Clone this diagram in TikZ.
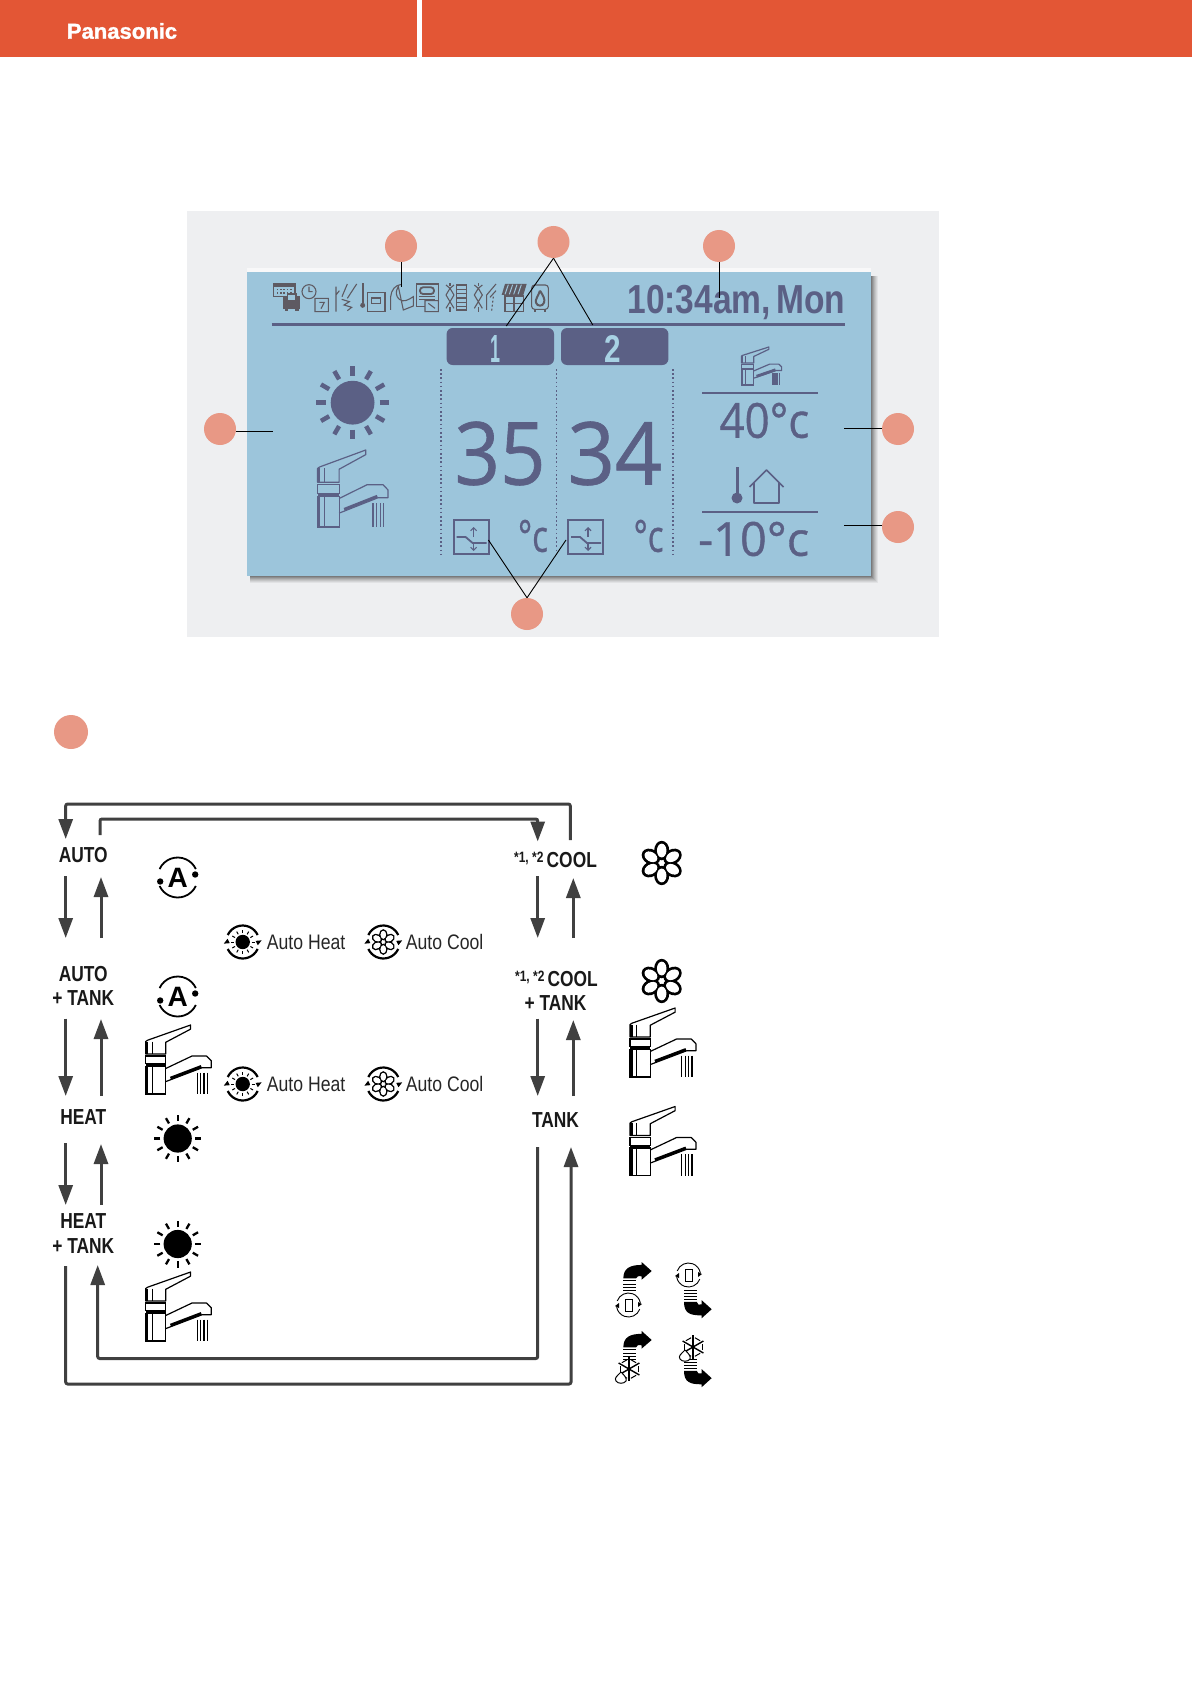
\documentclass[tikz,border=0pt]{standalone}
\usepackage{fontspec}
\usepackage{graphicx}
\setmainfont{Liberation Sans}
\newfontfamily\lcdf[FakeBold=.8]{Open Sans}
\newfontfamily\brandf[FakeBold=1.4,FakeStretch=1.02]{Liberation Sans Bold}
\usetikzlibrary{arrows.meta,calc}
\definecolor{hdr}{HTML}{E35635}
\definecolor{panel}{HTML}{EEEFF1}
\definecolor{lcdbg}{HTML}{9CC5DB}
\definecolor{lcdfg}{HTML}{5B6085}
\definecolor{lcdico}{HTML}{5E5A62}
\definecolor{lcdlt}{HTML}{A8D2E4}
\definecolor{dot}{HTML}{E89885}
\definecolor{arr}{HTML}{404040}
\tikzset{
 callout/.style={circle,fill=dot,minimum size=32pt,inner sep=0pt},
 leader/.style={draw=black,line width=.9pt},
 flow/.style={draw=arr,fill=none,line width=3pt,rounded corners=2pt,-{Triangle[length=20pt,width=14pt,fill=arr]}},
 modelabel/.style={inner sep=0pt,align=center,font=\fontsize{21.7}{24.6}\selectfont\bfseries,text=black!90},
 autolabel/.style={inner sep=0pt,font=\fontsize{21}{24}\selectfont,text=black!85,anchor=west},
 lcdtext/.style={inner sep=0pt,text=lcdfg},
}
\newcommand\nar[1]{\scalebox{.8}[1]{#1}}
\newcommand\narr[1]{\scalebox{.84}[1]{#1}}
% faucet: x y w h colour
\newcommand\faucetpic[5]{%
\begin{scope}[shift={(#1,#2)},xscale=#3/100,yscale=#4/100,line width=1.2pt]
 \draw[#5,line join=round] (4,22)--(68,0)--(68,6)--(31,25)--(31,42)--(1,42)--(1,24)--(4,22);
 \fill[#5] (1,24) rectangle (5,42);
 \draw[#5] (11,24)--(11,42);
 \draw[#5] (1,45) rectangle (31,56);
 \fill[#5] (1,56) rectangle (31,60);
 \draw[#5] (1,60) rectangle (31,100);
 \fill[#5] (1,60) rectangle (5,100);
 \draw[#5] (11,60)--(11,100);
 \draw[#5,line join=round] (31,63)--(70,45)--(92,45)--(99,52)--(99,62)--(85,62)--(31,82);
 \draw[#5,line width=2.8pt] (38,77)--(84,60);
 \foreach \q in {78,83,88,93} \draw[#5] (\q,69)--(\q,100);
\end{scope}}
% sun: x y size colour raywidth
\newcommand\sunpic[5]{%
\begin{scope}[shift={(#1,#2)},scale=#3/100]
 \fill[#4] (0,0) circle (30);
 \foreach \a in {0,30,...,330} \draw[#4,line width=#5pt] (\a:37)--(\a:50);
\end{scope}}
% flower: x y size lw
\newcommand\flowerpic[4]{%
\begin{scope}[shift={(#1,#2)},scale=#3/100]
 \foreach \a in {0,60,...,300} \draw[black,line width=#4pt,rotate=\a] (0,-29) ellipse [x radius=14,y radius=19];
 \foreach \a in {0,60,...,300} \fill[white,rotate=\a] (0,-29) ellipse [x radius=11,y radius=16];
\end{scope}}
\newcommand\autoring[2]{%
\begin{scope}[shift={(#1,#2)}]
 \draw[black,line width=2.2pt] (25:16.5) arc (25:155:16.5);
 \draw[black,line width=2.2pt] (205:16.5) arc (205:335:16.5);
 \fill[black] (12:15.5)--(-5:19)--(-5:13)--cycle;
 \fill[black] (192:15.5)--(175:19)--(175:13)--cycle;
\end{scope}}
\newcommand\Aring[3]{%
\begin{scope}[shift={(#1,#2)}]
 \draw[black,line width=1.8pt] (25:20) arc (25:155:20);
 \draw[black,line width=1.8pt] (205:20) arc (205:335:20);
 \fill[black] (17.5,-3) circle (3.2);
 \fill[black] (-17.5,4) circle (3.2);
 \node[inner sep=0pt,font=\fontsize{28}{28}\selectfont\bfseries] (#3) at (0,0) {A};
\end{scope}}
\newcommand\rotpic[2]{%
\begin{scope}[shift={(#1,#2)}]
 \draw[black,line width=.9pt] (20:12) arc (20:170:12);
 \draw[black,line width=.9pt] (200:12) arc (200:350:12);
 \draw[black,line width=.9pt] (-3.5,-6) rectangle (3.5,6);
 \fill[black] (13.5,-1)--(9.5,-3)--(9.5,2)--cycle;
 \fill[black] (-13.5,1)--(-9.5,3)--(-9.5,-2)--cycle;
\end{scope}}
\newcommand\frostpic[2]{%
\begin{scope}[shift={(#1,#2)}]
 \foreach \a in {0,60,120} \draw[black,line width=1.4pt,rotate=\a] (0,-12)--(0,12);
 \foreach \a in {30,90,150} \draw[black,line width=1pt,rotate=\a] (-3,-9)--(3,-9) (-3,9)--(3,9);
 \draw[black,fill=white,line width=1pt] (-8,3) .. controls (-12,7) and (-15,9) .. (-13,12) .. controls (-11,15) and (-5,15) .. (-3,12) .. controls (-2,9) and (-5,6) .. (-8,3);
\end{scope}}
\newcommand\modeicon[2]{%
\begin{scope}[shift={(#1,#2)}]
 \draw[lcdfg,line width=1.8pt] (0,0) rectangle (35,34);
 \draw[lcdfg,line width=1.8pt] (3,17)--(12,17)--(19,23)--(33,23);
 \draw[lcdfg,line width=1.1pt,-{Straight Barb[length=3pt,width=6pt]}] (20,17)--(20,7);
 \draw[lcdfg,line width=1.1pt,-{Straight Barb[length=3pt,width=6pt]}] (20,24)--(20,31);
\end{scope}}
\begin{document}
\begin{tikzpicture}[x=1pt,y=-1pt]
\useasboundingbox (0,0) rectangle (1192,1685);
\fill[white] (0,0) rectangle (1192,1685);
% header
\fill[hdr] (0,0) rectangle (417,57);
\fill[hdr] (422,0) rectangle (1192,57);
\node[inner sep=0pt,text=white,font=\fontsize{21.6}{24}\selectfont\brandf] (brand) at (122,31) {Panasonic};
% panel + screen
\fill[panel] (187,211) rectangle (939,637);
\fill[white,opacity=.6] (247,268) rectangle (871,272);
\foreach \o/\p in {7/.05,6/.06,5/.07,4/.08,3/.1,2/.12,1/.14}
  \fill[black,opacity=\p] (250,276) rectangle (870.5+\o,576+\o);
\fill[lcdbg] (246.6,272) rectangle (870.5,576);
\draw[lcdfg,line width=3pt] (271.5,324)--(844.5,324);
% buttons
\fill[lcdfg,rounded corners=6pt] (446.6,328) rectangle (554,365);
\fill[lcdfg,rounded corners=6pt] (561,328) rectangle (668.4,365);
\node[inner sep=0pt,text=lcdlt,font=\bfseries] (b1) at (495.8,348.5) {\resizebox{10pt}{27pt}{1}};
\node[inner sep=0pt,text=lcdlt,font=\bfseries] (b2) at (613.2,348.5) {\resizebox{16.5pt}{27pt}{2}};
% dotted
\foreach \q in {441,556.5,673} \draw[lcdfg,line width=1.4pt,dash pattern=on 1.6pt off 2.6pt] (\q,369)--(\q,557);
% big text
\node[lcdtext,font=\lcdf] (t35) at (500,453.5) {\resizebox{91pt}{63pt}{35}};
\node[lcdtext,font=\lcdf] (t34) at (615,453.5) {\resizebox{94.5pt}{63pt}{34}};
\node[lcdtext,font=\lcdf] (dc1) at (533,536) {\resizebox{30pt}{32pt}{°c}};
\node[lcdtext,font=\lcdf] (dc2) at (648.6,536) {\resizebox{30pt}{32pt}{°c}};
\node[lcdtext,font=\lcdf] (t40) at (764.4,420.5) {\resizebox{89.5pt}{35pt}{40°c}};
\node[lcdtext,font=\lcdf] (tm10) at (753.6,539) {\resizebox{111pt}{34pt}{-10°c}};
\node[lcdtext,font=\bfseries] (clock) at (736.5,302.5) {\resizebox{218pt}{28.3pt}{10:34am,\,Mon}};
\draw[lcdfg,line width=1.8pt] (702,393)--(818,393);
\draw[lcdfg,line width=1.8pt] (702,511.7)--(818,511.7);
% lcd mode icons
\sunpic{352.6}{402.7}{73}{lcdfg}{4.5}
\faucetpic{316.8}{450}{72}{77}{lcdfg}
\faucetpic{741}{347}{41}{38}{lcdfg}
\modeicon{453.6}{520}
\modeicon{568}{520}
% thermometer + house
\draw[lcdfg,line width=3pt] (737,467)--(737,496);
\fill[lcdfg] (737,498) circle (5.5);
\draw[lcdfg,line width=1.6pt,line join=round] (749.5,487)--(766.5,470)--(783.5,487) (754,483)--(754,503)--(779,503)--(779,483);
% status icons
\begin{scope}[shift={(260,270)},scale=1/3,line width=1.1pt]
 \draw[lcdico] (40,42) rectangle (105,80);
 \fill[lcdico] (40,40) rectangle (105,50);
 \foreach \q in {50,60,70,80,90} {\fill[lcdico] (\q,56) rectangle ++(5,5); \fill[lcdico] (\q,66) rectangle ++(5,5);}
 \fill[lcdico] (70,78) rectangle (120,116);
 \fill[lcdico] (74,116) rectangle (84,124);
 \fill[lcdico] (106,116) rectangle (116,124);
 \fill[lcdbg] (82,72) rectangle (108,92);
 \draw[lcdico] (82,72) rectangle (108,92);
 \draw[lcdico] (147,65) circle (21) (147,50)--(147,65)--(158,65);
 \fill[lcdbg] (165,85) rectangle (205,125);
 \draw[lcdico] (165,85) rectangle (205,125) (178,97)--(193,97)--(183,116);
 \draw[lcdico] (228,50)--(228,125) (228,75)--(238,62) (262,42)--(246,80) (290,42)--(262,85) (245,88)--(268,95)--(252,105)--(275,112)--(262,122);
 \draw[lcdico,line width=1.8pt] (308,40)--(308,100);
 \fill[lcdico] (308,106) circle (7.5);
 \draw[lcdico] (322,68) rectangle (375,125);
 \draw[lcdico,line width=1.6pt] (335,84) rectangle (362,100);
 \draw[lcdico] (392,120) -- (392,80) .. controls (394,60) and (405,45) .. (425,43) (415,50) .. controls (405,65) and (408,80) .. (418,88) .. controls (430,98) and (445,90) .. (460,80) -- (460,108) -- (430,120) -- cycle;
 \draw[lcdico] (470,42) rectangle (535,110);
 \draw[lcdico,line width=1.8pt,rounded corners=3pt] (480,52) rectangle (522,72);
 \draw[lcdico] (478,80)--(525,80) (478,88)--(525,88);
 \fill[lcdbg] (495,92) rectangle (535,125);
 \draw[lcdico] (495,92) rectangle (535,125) (505,100)--(525,115);
 \foreach \c in {570,655} {
  \draw[lcdico] (\c-12,45)--(\c,55)--(\c+12,45) (\c-12,75)--(\c,55)--(\c+12,75) (\c-12,75)--(\c,95)--(\c+12,75) (\c-12,115)--(\c,95)--(\c+12,115);
  \draw[lcdico] (\c,40)--(\c,48) (\c,112)--(\c,125);}
 \draw[lcdico] (590,45) rectangle (620,120);
 \foreach \q in {58,71,84,97,110} \draw[lcdico] (590,\q)--(620,\q);
 \draw[lcdico] (680,120)--(680,75)--(708,42) (690,82)--(708,62);
 \draw[lcdico,dash pattern=on 2pt off 2pt] (700,80)--(695,122);
 \fill[lcdico] (735,42)--(800,42)--(790,75)--(725,75)--cycle;
 \foreach \q in {745,758,771,784} \draw[lcdbg,line width=1pt] (\q,44)--(\q-10,73);
 \draw[lcdico] (735,78) rectangle (790,125) (762,78)--(762,125) (735,100)--(790,100);
 \draw[lcdico,rounded corners=3pt] (815,45) rectangle (865,118);
 \draw[lcdico] (825,118)--(825,125) (855,118)--(855,125);
 \draw[lcdico,line width=2pt] (840,62) .. controls (850,78) and (856,88) .. (852,98) .. controls (848,110) and (832,110) .. (828,98) .. controls (825,88) and (835,78) .. (840,62);
\end{scope}
% callouts
\node[callout] (c1) at (401,246) {};
\node[callout] (c2) at (553.5,242) {};
\node[callout] (c3) at (719,246) {};
\node[callout] (cl) at (220,429) {};
\node[callout] (cr1) at (898,429) {};
\node[callout] (cr2) at (898,527) {};
\node[callout] (cb) at (527,614) {};
\node[callout,minimum size=34pt] (sec) at (71,732) {};
\coordinate (e1) at (401,287);
\coordinate (e2a) at (506.3,326);
\coordinate (e2b) at (592.8,325);
\coordinate (e3) at (719,298);
\coordinate (el) at (273,431);
\coordinate (er1) at (844,428);
\coordinate (er2) at (844,525);
\coordinate (eba) at (488.4,540);
\coordinate (ebb) at (566,540);
\draw[leader] (c1.south)--(e1);
\draw[leader] (c2.south)--(e2a);
\draw[leader] (c2.south)--(e2b);
\draw[leader] (c3.south)--(e3);
\draw[leader] (cl.east |- el)--(el);
\draw[leader] (cr1.west |- er1)--(er1);
\draw[leader] (cr2.west |- er2)--(er2);
\draw[leader] (cb.north)--(eba);
\draw[leader] (cb.north)--(ebb);
% mode labels
\node[modelabel] (auto) at (83.3,855.5) {\nar{AUTO}};
\node[modelabel] (autot) at (83.3,986) {\nar{AUTO}\\\nar{+ TANK}};
\node[modelabel] (heat) at (83.3,1117.5) {\nar{HEAT}};
\node[modelabel] (heatt) at (83.3,1233.5) {\nar{HEAT}\\\nar{+ TANK}};
\node[modelabel] (cool) at (555.5,859.5) {\nar{\raisebox{5pt}{\fontsize{15}{15}\selectfont *1, *2}\hspace{4pt}COOL}};
\node[modelabel,anchor=east] (coolt) at (598,978.5) {\nar{\raisebox{5pt}{\fontsize{15}{15}\selectfont *1, *2}\hspace{4pt}COOL}};
\node[modelabel] (coolt2) at (555.5,1002.6) {\nar{+ TANK}};
\node[modelabel] (tank) at (555.5,1120) {\nar{TANK}};
% auto labels
\node[autolabel] (ah1) at (266.7,942) {\narr{Auto Heat}};
\node[autolabel] (ac1) at (405.7,942) {\narr{Auto Cool}};
\node[autolabel] (ah2) at (266.7,1084) {\narr{Auto Heat}};
\node[autolabel] (ac2) at (405.7,1084) {\narr{Auto Cool}};
% flow coordinates
\coordinate (a1s) at (65.7,876); \coordinate (a1e) at (65.7,938);
\coordinate (a2s) at (101,938); \coordinate (a2e) at (101,877);
\coordinate (a3s) at (65.7,1018.5); \coordinate (a3e) at (65.7,1096);
\coordinate (a4s) at (101,1096); \coordinate (a4e) at (101,1019);
\coordinate (a5s) at (65.7,1143); \coordinate (a5e) at (65.7,1205);
\coordinate (a6s) at (101,1205); \coordinate (a6e) at (101,1144);
\coordinate (b1s) at (537.7,876); \coordinate (b1e) at (537.7,938);
\coordinate (b2s) at (573.3,938); \coordinate (b2e) at (573.3,878);
\coordinate (b3s) at (537.7,1018.5); \coordinate (b3e) at (537.7,1096);
\coordinate (b4s) at (573.3,1096); \coordinate (b4e) at (573.3,1020);
\coordinate (o1s) at (570.3,840); \coordinate (o1a) at (570.3,804); \coordinate (o1b) at (65.7,804); \coordinate (o1e) at (65.7,839);
\coordinate (i1s) at (100,835); \coordinate (i1a) at (100,819); \coordinate (i1b) at (537.7,819); \coordinate (i1e) at (537.7,841.5);
\coordinate (o2s) at (65.7,1266); \coordinate (o2a) at (65.7,1384); \coordinate (o2b) at (571,1384); \coordinate (o2e) at (571,1147);
\coordinate (i2s) at (537.7,1147); \coordinate (i2a) at (537.7,1358.5); \coordinate (i2b) at (97.7,1358.5); \coordinate (i2e) at (97.7,1265);
\foreach \n in {a1,a2,a3,a4,a5,a6,b1,b2,b3,b4} \draw[flow] (\n s)--(\n e);
\draw[flow] (o1s)--(o1a)--(o1b)--(o1e);
\draw[flow] (i1s)--(i1a)--(i1b)--(i1e);
\draw[flow] (o2s)--(o2a)--(o2b)--(o2e);
\draw[flow] (i2s)--(i2a)--(i2b)--(i2e);
% diagram icons
\Aring{177.7}{877.5}{ai1}
\Aring{177.7}{996.5}{ai2}
\sunpic{177.7}{1138.5}{47}{black}{2.3}
\sunpic{177.7}{1244}{47}{black}{2.3}
\faucetpic{145}{1025}{67}{69}{black}
\faucetpic{145}{1272}{67}{69}{black}
\flowerpic{661.7}{863}{43}{3}
\flowerpic{661.7}{981}{43}{3}
\faucetpic{629.3}{1008}{67.4}{69}{black}
\faucetpic{629.3}{1106.5}{67.4}{69}{black}
\autoring{242.7}{942}\sunpic{242.7}{942}{24}{black}{1}
\autoring{383.3}{942}\flowerpic{383.3}{942}{25}{1.5}
\autoring{242.7}{1084}\sunpic{242.7}{1084}{24}{black}{1}
\autoring{383.3}{1084}\flowerpic{383.3}{1084}{25}{1.5}
% small heat-pump arrows
\begin{scope}[shift={(490,780)},xscale=1/3,yscale=1/2.4375]
 \foreach \d in {0,168} {
  \begin{scope}[yshift=-\d pt]
  \fill[black] (400,1215) .. controls (400,1190) and (420,1182) .. (455,1182) -- (455,1175) -- (485,1197) -- (455,1218) -- (455,1210) .. controls (445,1208) and (440,1210) .. (438,1215) -- cycle;
  \foreach \q in {1221,1229,1237,1245} \draw[black,line width=.9pt] (400,\q)--(438,\q);
  \fill[black] (582,1272) .. controls (582,1300) and (600,1305) .. (635,1305) -- (635,1312) -- (665,1290) -- (635,1268) -- (635,1278) .. controls (628,1282) and (622,1278) .. (620,1272) -- cycle;
  \foreach \q in {1244,1252,1260,1267} \draw[black,line width=.9pt] (582,\q)--(620,\q);
  \end{scope}}
\end{scope}
\rotpic{628.5}{1305}
\rotpic{688.5}{1275}
\frostpic{629}{1369}
\frostpic{693}{1347}
\end{tikzpicture}
\end{document}
